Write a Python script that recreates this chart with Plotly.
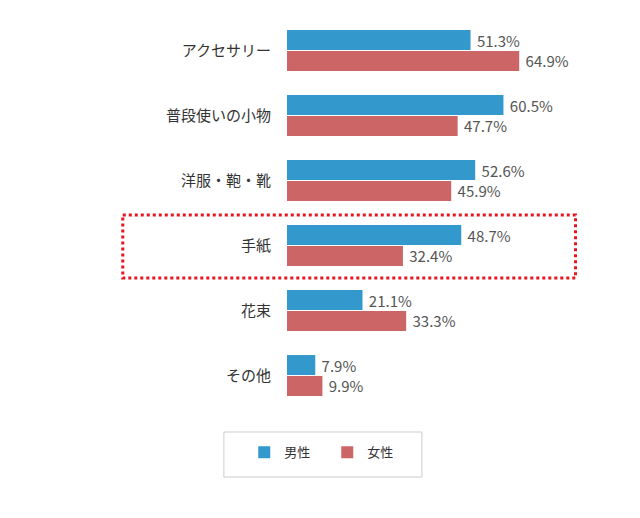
import plotly.graph_objects as go

categories = ["アクセサリー", "普段使いの小物", "洋服・鞄・靴", "手紙", "花束", "その他"]
male = [51.3, 60.5, 52.6, 48.7, 21.1, 7.9]
female = [64.9, 47.7, 45.9, 32.4, 33.3, 9.9]
series_names = ["男性", "女性"]
colors = ["#3399cc", "#cc6666"]
highlight = "手紙"

FONT = "Noto Sans CJK JP, Noto Sans, sans-serif"

fig = go.Figure()
for name, vals, col in zip(series_names, [male, female], colors):
    fig.add_trace(go.Bar(
        y=categories, x=vals, name=name, orientation="h",
        marker=dict(color=col, line=dict(width=0)),
        text=[f" {v:.1f}%" for v in vals], textposition="outside",
        constraintext="none",
        textfont=dict(size=15, color="#555555", family=FONT),
        cliponaxis=False, hoverinfo="skip",
    ))

hi = categories.index(highlight)
fig.add_shape(type="rect", xref="paper", yref="y",
              x0=-0.51, x1=0.896, y0=hi - 0.47, y1=hi + 0.5,
              line=dict(color="#e8141e", width=3, dash="dot"))

# legend frame
fig.add_shape(type="rect", xref="paper", yref="paper",
              x0=-0.196, x1=0.419, y0=-0.177, y1=-0.0615,
              line=dict(color="#cccccc", width=1))

fig.update_layout(
    width=640, height=518,
    margin=dict(l=279, r=39, t=10, b=118, autoexpand=False),
    plot_bgcolor="white", paper_bgcolor="white",
    barmode="group", bargap=0.354, bargroupgap=0.05,
    font=dict(family=FONT, color="#333333"),
    showlegend=True,
    legend=dict(orientation="h", x=0.125, xanchor="center", y=-0.075, yanchor="top",
                borderwidth=0, font=dict(size=13, color="#333333"),
                entrywidth=38, traceorder="normal", bgcolor="rgba(0,0,0,0)"),
    xaxis=dict(range=[0, 90], visible=False, fixedrange=True),
    yaxis=dict(autorange="reversed", showgrid=False, zeroline=False, showline=False,
               ticks="", ticklabelstandoff=15, tickfont=dict(size=15, color="#333333")),
)

fig.write_html("out.html")
